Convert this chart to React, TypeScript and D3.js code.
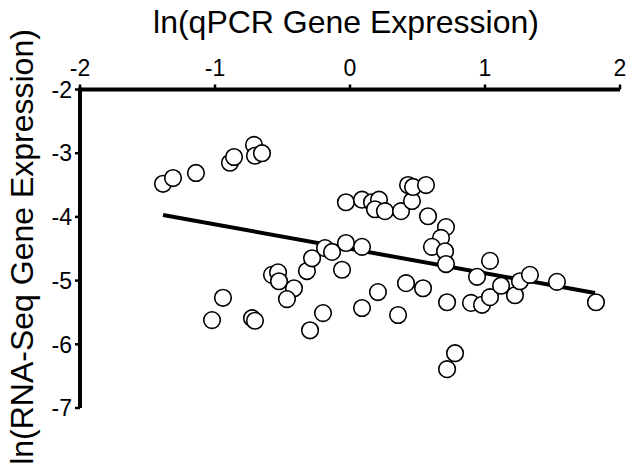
import React from "react";
import * as d3 from "d3";

const xTicks = [-2, -1, 0, 1, 2];
const yTicks = [-2, -3, -4, -5, -6, -7];

const pointsX = [
  -1.385, -1.311, -1.141, -0.889, -0.859, -0.711, -0.704, -0.652,
  -0.941, -1.022, -0.726, -0.704, -0.578, -0.533, -0.526, -0.415, -0.467,
  -0.319, -0.281, -0.296, -0.2, -0.185, -0.133, -0.059, -0.03, 0.089,
  -0.03, 0.089, 0.163, 0.215, 0.185, 0.259, 0.378, 0.459, 0.43, 0.467, 0.563,
  0.578, 0.711, 0.674, 0.607, 0.704, 0.711,
  0.089, 0.207, 0.356, 0.415, 0.541, 0.719, 0.896, 0.978, 1.037, 1.119,
  1.222, 1.259, 1.333, 1.533, 1.822, 1.037, 0.941, 0.778, 0.719,
];
const pointsY = [
  -3.48, -3.39, -3.31, -3.15, -3.06, -2.87, -3.04, -3.0,
  -5.27, -5.62, -5.59, -5.63, -4.91, -4.87, -5.01, -5.12, -5.29,
  -4.85, -4.65, -5.78, -5.51, -4.49, -4.55, -4.83, -4.41, -4.47,
  -3.77, -3.73, -3.77, -3.73, -3.88, -3.91, -3.91, -3.75, -3.5, -3.53, -3.5,
  -3.99, -4.16, -4.33, -4.47, -4.54, -4.74,
  -5.43, -5.18, -5.54, -5.04, -5.12, -5.34, -5.35, -5.38, -5.26, -5.08,
  -5.23, -5.01, -4.91, -5.02, -5.34, -4.69, -4.94, -6.14, -6.39,
];
const fitX = [-1.385, 1.815];
const fitY = [-3.97, -5.195];

const xTitle = "ln(qPCR Gene Expression)";
const yTitle = "ln(RNA-Seq Gene Expression)";

export default function App() {
  const W = 633, H = 474;
  const x = d3.scaleLinear().domain([-2, 2]).range([80, 620]);
  const y = d3.scaleLinear().domain([-2, -7]).range([89.5, 408]);
  const font = "'Liberation Sans', Arial, sans-serif";
  const line = d3.line<number>().x((_, i) => x(fitX[i])).y((_, i) => y(fitY[i]));
  return (
    <svg width={W} height={H} style={{ position: "absolute", left: 0, top: 0, background: "#fff" }} fontFamily={font}>
      <text x={346} y={33} fontSize={32} textAnchor="middle">{xTitle}</text>
      <text transform={`translate(33,247) rotate(-90)`} fontSize={32} textAnchor="middle">{yTitle}</text>
      <line x1={x(-2)} x2={x(2)} y1={y(-2)} y2={y(-2)} stroke="#000" strokeWidth={4} />
      <line x1={x(-2)} x2={x(-2)} y1={y(-2) - 2} y2={y(-7)} stroke="#000" strokeWidth={4} />
      {xTicks.map((t) => (
        <g key={"x" + t}>
          <line x1={x(t)} x2={x(t)} y1={y(-2)} y2={y(-2) - 5} stroke="#000" strokeWidth={2.5} />
          <text x={x(t)} y={76} fontSize={23} textAnchor="middle">{String(t)}</text>
        </g>
      ))}
      {yTicks.map((t) => (
        <g key={"y" + t}>
          <line x1={x(-2)} x2={x(-2) - 5} y1={y(t)} y2={y(t)} stroke="#000" strokeWidth={2.5} />
          <text x={72} y={y(t)} dy="0.36em" fontSize={23} textAnchor="end">{String(t)}</text>
        </g>
      ))}
      <path d={line(fitX) || ""} fill="none" stroke="#000" strokeWidth={4} />
      {pointsX.map((px, i) => (
        <circle key={i} cx={x(px)} cy={y(pointsY[i])} r={8.3} fill="#fff" stroke="#000" strokeWidth={1.6} />
      ))}
    </svg>
  );
}
